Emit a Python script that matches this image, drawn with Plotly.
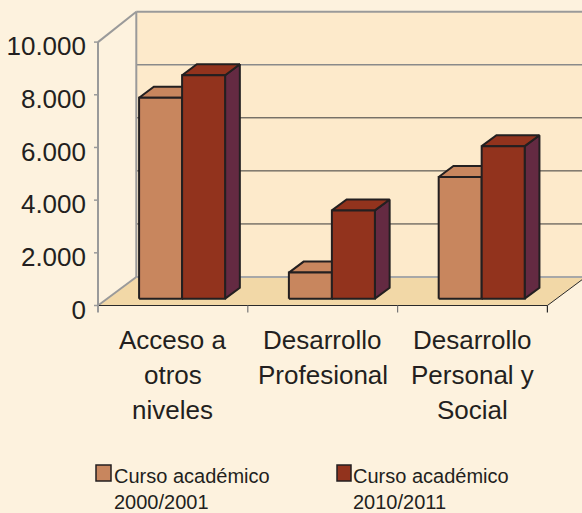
import plotly.graph_objects as go

# ---------------- data ----------------
categories = ["Acceso a\notros\nniveles", "Desarrollo\nProfesional", "Desarrollo\nPersonal y\nSocial"]
series_names = ["Curso académico\n2000/2001", "Curso académico\n2010/2011"]
values_2000 = [7630, 990, 4620]
values_2010 = [8480, 3350, 5790]
y_ticks = [0, 2000, 4000, 6000, 8000, 10000]
series_values = [values_2000, values_2010]

# ---------------- style / geometry ----------------
W_PX, H_PX = 582, 513
M_L, M_R, M_T, M_B = 88, 0, 0, 193
PLOT_W = W_PX - M_L - M_R
PLOT_H = H_PX - M_T - M_B
X0_PX = 98.0          # pixel of category boundary 0 (front left corner)
Y0_PX = 305.5         # pixel of value 0 on the front plane
PXU = 149.8           # pixels per category unit
PXV = 263.4 / 10000   # pixels per value unit

XR = [(M_L - X0_PX) / PXU, (W_PX - M_R - X0_PX) / PXU]
YR = [(Y0_PX - (M_T + PLOT_H)) / PXV, (Y0_PX - M_T) / PXV]

DXU = 38.3 / PXU      # depth vector (back wall offset) in data units
DYV = 28.5 / PXV
BACK_K = 265.3 / 263.4  # slight scale of the back wall
D0, D1 = 0.24, 0.625  # bar depth (front, back) as fraction of the depth
BW = 43.0 / PXU       # bar width

BG = "#FDF2DE"
WALL = "#FDEACB"
FLOOR = "#F2D8A7"
OUTLINE = "#231F20"
GRAY = "#9A9A9A"
FRONT = ["#C8865E", "#92331D"]
TOPC = ["#C8865E", "#92331D"]
SIDE = ["#8E5A3C", "#642A42"]
FONT = "Liberation Sans, Arial, sans-serif"
TXT = "#231F20"

def px2paper_x(px):
    return (px - M_L) / PLOT_W

def px2paper_y(py):
    return (M_T + PLOT_H - py) / PLOT_H

fig = go.Figure()

def poly(xs, ys, fill, line_color=None, lw=0):
    fig.add_trace(go.Scatter(
        x=list(xs) + [xs[0]], y=list(ys) + [ys[0]], mode="lines", fill="toself",
        fillcolor=fill, line=dict(color=line_color or fill, width=lw),
        hoverinfo="skip", showlegend=False))

def seg(xs, ys, color, lw):
    fig.add_trace(go.Scatter(x=xs, y=ys, mode="lines",
                             line=dict(color=color, width=lw),
                             hoverinfo="skip", showlegend=False))

ncat = len(categories)
top_v = y_ticks[-1]
back_top = DYV + top_v * BACK_K

# back wall and floor
poly([DXU, DXU, ncat + DXU + 1, ncat + DXU + 1], [DYV, back_top, back_top, DYV], WALL)
poly([0, DXU, ncat + DXU, ncat], [0, DYV, DYV, 0], FLOOR)

# gridlines on back wall
for v in y_ticks[1:]:
    if v >= top_v:
        col, lw = GRAY, 2
    elif v == y_ticks[-2]:
        col, lw = "#8A8A8A", 1.5
    else:
        col, lw = "#3A3A3A", 1
    yy = DYV + v * BACK_K
    seg([DXU, ncat + DXU + 1], [yy, yy], col, lw)

# wall edges
seg([DXU, ncat + DXU + 1], [DYV, DYV], "#A8A8A8", 2)
seg([DXU, DXU], [DYV, back_top], GRAY, 2)
seg([0, DXU], [top_v, back_top], GRAY, 2)
seg([0, DXU], [0, DYV], GRAY, 2)

# bars
ddx = (D1 - D0) * DXU
ddy = (D1 - D0) * DYV
for s, vals in enumerate(series_values):
    for c, val in enumerate(vals):
        x0 = c + 0.5 + D0 * DXU - BW + s * BW
        x1 = x0 + BW
        yb = D0 * DYV
        yt = yb + val
        poly([x1, x1 + ddx, x1 + ddx, x1], [yb, yb + ddy, yt + ddy, yt], SIDE[s], OUTLINE, 2)
        poly([x0, x1, x1 + ddx, x0 + ddx], [yt, yt, yt + ddy, yt + ddy], TOPC[s], OUTLINE, 2)
        poly([x0, x1, x1, x0], [yb, yb, yt, yt], FRONT[s], OUTLINE, 2)

# front edges, axis line and ticks
tick_down = 7 / PXV
seg([0, ncat], [0, 0], "#2A2A2A", 1)
seg([ncat, ncat + DXU], [0, DYV], "#2A2A2A", 1)
seg([0, 0], [-tick_down, top_v], GRAY, 2)
for v in y_ticks:
    seg([-4 / PXU, 0], [v, v], GRAY, 1.5)
for c in range(1, ncat + 1):
    seg([c, c], [0, -tick_down], "#777777" if c < ncat else "#2A2A2A", 1.2)

# category labels (one annotation per line)
CAT_FS = 26
LINE_H = 35
FIRST_BASELINE = 349.3
annotations = []
for c, lab in enumerate(categories):
    for i, line in enumerate(lab.split("\n")):
        base = FIRST_BASELINE + i * LINE_H
        annotations.append(dict(
            x=c + 0.5, xref="x", y=px2paper_y(base - 0.3465 * CAT_FS), yref="paper",
            text=line, showarrow=False, xanchor="center", yanchor="middle",
            font=dict(family=FONT, size=CAT_FS, color=TXT), borderpad=0, borderwidth=0))

# manual legend
LEG_FS = 20
leg_sq = [(96, 465, 111, 481), (337, 465, 351, 481)]
leg_text_x = [113.5, 352.5]
leg_baselines = [483.0, 508.6]
shapes = []
for s, name in enumerate(series_names):
    xa, ya, xb, yb2 = leg_sq[s]
    shapes.append(dict(type="rect", xref="paper", yref="paper",
                       x0=px2paper_x(xa), x1=px2paper_x(xb),
                       y0=px2paper_y(ya), y1=px2paper_y(yb2),
                       fillcolor=FRONT[s], line=dict(color=OUTLINE, width=1.5)))
    for i, line in enumerate(name.split("\n")):
        annotations.append(dict(
            x=px2paper_x(leg_text_x[s]), xref="paper",
            y=px2paper_y(leg_baselines[i] - 0.3465 * LEG_FS), yref="paper",
            text=line, showarrow=False, xanchor="left", yanchor="middle",
            font=dict(family=FONT, size=LEG_FS, color=TXT), borderpad=0, borderwidth=0))

fig.update_layout(
    width=W_PX, height=H_PX,
    margin=dict(l=M_L, r=M_R, t=M_T, b=M_B, pad=0),
    paper_bgcolor=BG, plot_bgcolor=BG,
    separators=",.",
    showlegend=False,
    xaxis=dict(range=XR, showgrid=False, zeroline=False, showticklabels=False,
               ticks="", showline=False, fixedrange=True),
    yaxis=dict(range=YR, showgrid=False, zeroline=False, showline=False,
               tickvals=y_ticks, tickformat=",d", ticks="",
               tickfont=dict(family=FONT, size=CAT_FS, color=TXT),
               ticklabelshift=4, ticklabelstandoff=1, fixedrange=True),
    annotations=annotations,
    shapes=shapes,
)

fig.write_html(
    "out.html",
    config={"displayModeBar": False},
    post_script="document.body.style.margin='0';document.body.style.padding='0';"
                "document.body.style.overflow='hidden';"
                "document.body.style.background='" + BG + "';",
)
